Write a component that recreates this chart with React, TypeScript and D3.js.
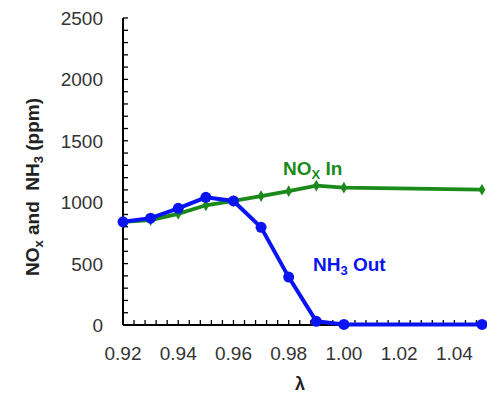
import * as d3 from 'd3';
import { FC } from 'react';

const lambdas = [0.92, 0.93, 0.94, 0.95, 0.96, 0.97, 0.98, 0.99, 1.0, 1.05];
const noxIn = [840, 855, 905, 975, 1010, 1050, 1090, 1135, 1118, 1102];
const nh3Out = [840, 870, 950, 1040, 1010, 795, 390, 30, 5, 5];
const xTicks = [0.92, 0.94, 0.96, 0.98, 1.0, 1.02, 1.04];
const yTicks = [0, 500, 1000, 1500, 2000, 2500];

const width = 487;
const height = 396;
const margin = { top: 18, right: 5, bottom: 71, left: 123 };
const font = 'Liberation Sans, Arial, Helvetica, sans-serif';

const App: FC = () => {
  const x = d3.scaleLinear().domain([0.92, 1.05]).range([margin.left, width - margin.right]);
  const y = d3.scaleLinear().domain([0, 2500]).range([height - margin.bottom, margin.top]);

  const line = d3
    .line<number>()
    .x((_, i) => x(lambdas[i]))
    .y((d) => y(d));

  const xMinor = d3.range(0.92, 1.0501, 0.004);
  const yMinor = d3.range(0, 2501, 100);
  const diamond = d3.symbol().type(d3.symbolDiamond).size(40)();

  return (
    <svg width={width} height={height} style={{ position: 'absolute', left: 0, top: 0 }}>
      <rect width={width} height={height} fill="#fff" />
      {/* axes */}
      <line x1={x.range()[0]} x2={x.range()[1]} y1={y(0)} y2={y(0)} stroke="#000" strokeWidth={2} />
      <line x1={x(0.92)} x2={x(0.92)} y1={y(0)} y2={y(2500)} stroke="#000" strokeWidth={2} />
      {xMinor.map((t, i) => (
        <line key={'xm' + i} x1={x(t)} x2={x(t)} y1={y(0)} y2={y(0) - 5} stroke="#000" strokeWidth={1.3} />
      ))}
      {yMinor.map((t, i) => (
        <line key={'ym' + i} x1={x(0.92)} x2={x(0.92) + 5} y1={y(t)} y2={y(t)} stroke="#000" strokeWidth={1.3} />
      ))}
      {xTicks.map((t) => (
        <text key={'xt' + t} x={x(t)} y={y(0) + 35} textAnchor="middle" fontFamily={font} fontSize={19} fill="#333">
          {t.toFixed(2)}
        </text>
      ))}
      {yTicks.map((t) => (
        <text key={'yt' + t} x={x(0.92) - 20} y={y(t) + 7} textAnchor="end" fontFamily={font} fontSize={19} fill="#333">
          {t}
        </text>
      ))}

      {/* NOx in */}
      <path d={line(noxIn) || ''} fill="none" stroke="#1b8a1b" strokeWidth={3.8} />
      {noxIn.map((v, i) => (
        <path key={'g' + i} d={diamond || ''} transform={`translate(${x(lambdas[i])},${y(v)})`} fill="#1b8a1b" />
      ))}

      {/* NH3 out */}
      <path d={line(nh3Out) || ''} fill="none" stroke="#0a14f0" strokeWidth={4} />
      {nh3Out.map((v, i) => (
        <circle key={'b' + i} cx={x(lambdas[i])} cy={y(v)} r={5.5} fill="#0a14f0" />
      ))}

      {/* series labels */}
      <text x={283} y={175} fontFamily={font} fontSize={19} fontWeight="bold" fill="#1b8a1b">
        NO<tspan fontSize={13} dy={4}>X</tspan>
        <tspan dy={-4}> In</tspan>
      </text>
      <text x={313} y={271} fontFamily={font} fontSize={19} fontWeight="bold" fill="#0a14f0">
        NH<tspan fontSize={13} dy={4}>3</tspan>
        <tspan dy={-4}> Out</tspan>
      </text>

      {/* axis titles */}
      <text x={300} y={390} textAnchor="middle" fontFamily={font} fontSize={18} fontWeight="bold" fill="#222">
        λ
      </text>
      <text
        transform={`translate(39,${187}) rotate(-90)`}
        textAnchor="middle"
        fontFamily={font}
        fontSize={19}
        fontWeight="bold"
        fill="#222"
      >
        NO<tspan fontSize={13} dy={4}>x</tspan>
        <tspan dy={-4}>{' and\u00a0\u00a0NH'}</tspan>
        <tspan fontSize={13} dy={4}>3</tspan>
        <tspan dy={-4}> (ppm)</tspan>
      </text>
    </svg>
  );
};

export default App;
